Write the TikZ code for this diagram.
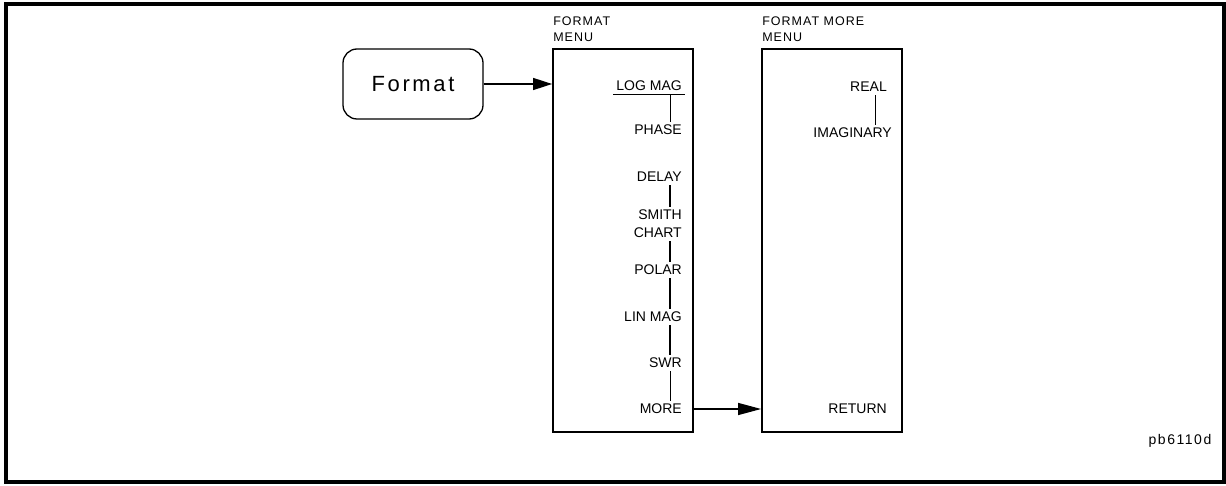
\documentclass[tikz,border=0pt]{standalone}
\usepackage{fontspec}
\setmainfont{Liberation Sans}
\newfontfamily\spacedfont[LetterSpace=8]{Liberation Sans}
\newfontfamily\fmtfont[LetterSpace=12]{Liberation Sans}
\newfontfamily\tagfont[LetterSpace=11]{Liberation Sans}
\usetikzlibrary{arrows.meta,calc}
\begin{document}
\begin{tikzpicture}[x=1pt,y=1pt,
  frame/.style={line width=3.5pt},
  menubox/.style={draw, line width=1.8pt, minimum width=140pt, minimum height=383pt, inner sep=0pt},
  key/.style={draw, line width=1.3pt, rounded corners=14pt, minimum width=140pt, minimum height=70pt, font=\fmtfont\fontsize{22}{26}\selectfont},
  lbl/.style={anchor=east, inner sep=3pt, font=\fontsize{14}{18}\selectfont, align=right},
  title/.style={anchor=south west, inner sep=0pt, font=\spacedfont\fontsize{12.5}{16}\selectfont, align=left},
  link/.style={line width=1.5pt},
  thinlink/.style={line width=0.9pt},
  arr/.style={line width=1.3pt, -{Triangle[length=19pt,width=12pt]}},
  arrlong/.style={line width=1.3pt, -{Triangle[length=23pt,width=12pt]}},
]
\useasboundingbox (0,0) rectangle (1226,-486);
\draw[frame] (6,-4) rectangle (1224,-482);

\node[menubox] (m1) at (623,-240.5) {};
\node[menubox] (m2) at (832,-240.5) {};
\node[key] (fmt) at (413,-84) {Format};

\node[title] (t1) at ($(m1.north west)+(1,6)$) {FORMAT\\MENU};
\node[title] (t2) at ($(m2.north west)+(1,6)$) {FORMAT MORE\\MENU};

\node[lbl] (logmag) at (685,-86) {LOG MAG};
\node[lbl] (phase) at (685,-130) {PHASE};
\node[lbl] (delay) at (685,-177) {DELAY};
\node[lbl] (smith) at (685,-224) {SMITH\\CHART};
\node[lbl] (polar) at (685,-270) {POLAR};
\node[lbl] (linmag) at (685,-317) {LIN MAG};
\node[lbl] (swr) at (685,-363) {SWR};
\node[lbl] (more) at (685,-409) {MORE};

\node[lbl] (real) at (890,-87) {REAL};
\node[lbl] (imag) at (895,-133) {IMAGINARY};
\node[lbl] (ret) at (890,-409) {RETURN};

\node[font=\tagfont\fontsize{14}{18}\selectfont] (tag) at (1180,-441) {pb6110d};

\coordinate (v1) at (670,0);
\coordinate (v2) at (875,0);
\draw[thinlink] (logmag.south west) -- (logmag.south east);
\draw[thinlink] (logmag.south -| v1) -- (phase.north -| v1);
\draw[link] (delay.south -| v1) -- (smith.north -| v1);
\draw[link] (smith.south -| v1) -- (polar.north -| v1);
\draw[link] (polar.south -| v1) -- (linmag.north -| v1);
\draw[link] (linmag.south -| v1) -- (swr.north -| v1);
\draw[thinlink] (swr.south -| v1) -- (more.north -| v1);
\draw[thinlink] (real.south -| v2) -- (imag.north -| v2);

\draw[arr] (fmt.east) -- (fmt.east -| m1.west);
\draw[arrlong] (more.east -| m1.east) -- (more.east -| m2.west);
\end{tikzpicture}
\end{document}
